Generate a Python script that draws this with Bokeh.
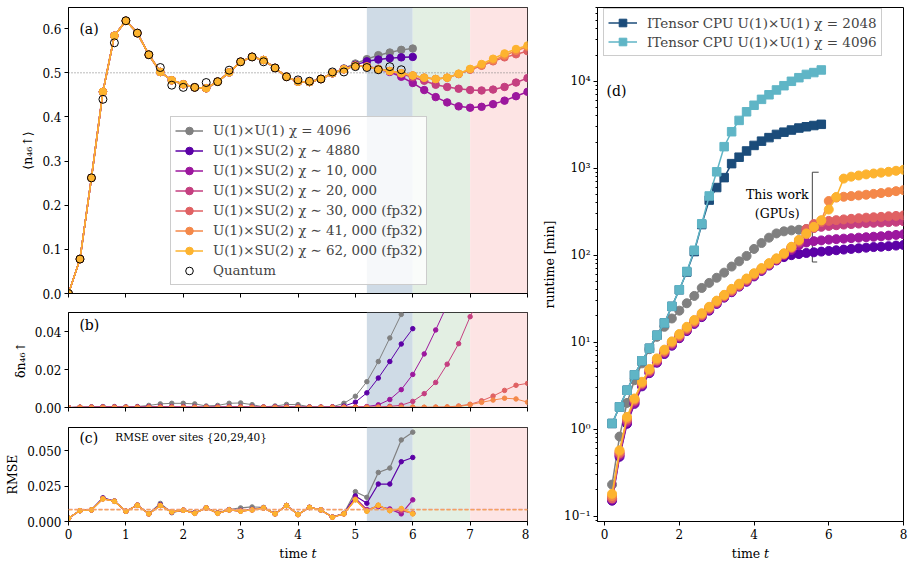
from bokeh.plotting import figure
from bokeh.models import (Range1d, BoxAnnotation, Span, Legend, LegendItem, Label,
                          FixedTicker, PrintfTickFormatter, CustomJSTickFormatter,
                          CustomLabelingPolicy)
from bokeh.layouts import row, column
from bokeh.embed import file_html
from bokeh.resources import INLINE

FONT = "DejaVu Serif"

# ---------------- data ----------------
T = [0.0, 0.2, 0.4, 0.6, 0.8, 1.0, 1.2, 1.4, 1.6, 1.8, 2.0, 2.2, 2.4, 2.6, 2.8, 3.0,
     3.2, 3.4, 3.6, 3.8, 4.0, 4.2, 4.4, 4.6, 4.8, 5.0, 5.2, 5.4, 5.6, 5.8, 6.0,
     6.2, 6.4, 6.6, 6.8, 7.0, 7.2, 7.4, 7.6, 7.8, 8.0]

LABELS = ["U(1)×U(1) χ = 4096", "U(1)×SU(2) χ ∼ 4880", "U(1)×SU(2) χ ∼ 10, 000",
          "U(1)×SU(2) χ ∼ 20, 000", "U(1)×SU(2) χ ∼ 30, 000 (fp32)",
          "U(1)×SU(2) χ ∼ 41, 000 (fp32)", "U(1)×SU(2) χ ∼ 62, 000 (fp32)"]
COLORS = ["#808080", "#5c01a6", "#9c179e", "#c53f80", "#e06163", "#f48849", "#fdb32f"]

# (a) <n_46up>
N_GRAY = [0.0, 0.078, 0.262, 0.457, 0.584, 0.618, 0.590, 0.541, 0.502, 0.483, 0.474, 0.467, 0.465,
          0.480, 0.501, 0.525, 0.536, 0.529, 0.511, 0.491, 0.480, 0.479, 0.486, 0.499, 0.510, 0.521,
          0.531, 0.540, 0.546, 0.552, 0.555]
N_4880 = [0.0, 0.078, 0.262, 0.457, 0.584, 0.618, 0.590, 0.541, 0.502, 0.483, 0.474, 0.467, 0.465,
          0.480, 0.501, 0.525, 0.536, 0.529, 0.511, 0.491, 0.480, 0.479, 0.486, 0.499, 0.509, 0.518,
          0.526, 0.530, 0.533, 0.535, 0.536]
N_10K = [0.0, 0.078, 0.262, 0.457, 0.584, 0.618, 0.590, 0.541, 0.502, 0.483, 0.474, 0.467, 0.465,
         0.480, 0.501, 0.525, 0.536, 0.529, 0.511, 0.491, 0.480, 0.479, 0.486, 0.499, 0.508, 0.516,
         0.515, 0.508, 0.502, 0.491, 0.477, 0.461, 0.445, 0.433, 0.424, 0.421, 0.423, 0.429, 0.437,
         0.447, 0.457]
N_20K = [0.0, 0.078, 0.262, 0.457, 0.584, 0.618, 0.590, 0.541, 0.502, 0.483, 0.474, 0.467, 0.465,
         0.480, 0.501, 0.525, 0.536, 0.529, 0.511, 0.491, 0.480, 0.479, 0.486, 0.499, 0.508, 0.516,
         0.515, 0.509, 0.504, 0.498, 0.490, 0.482, 0.473, 0.468, 0.464, 0.461, 0.460, 0.462, 0.468,
         0.478, 0.488]
N_30K = [0.0, 0.078, 0.262, 0.457, 0.584, 0.618, 0.590, 0.541, 0.502, 0.483, 0.474, 0.467, 0.465,
         0.480, 0.501, 0.525, 0.536, 0.529, 0.511, 0.491, 0.480, 0.479, 0.486, 0.499, 0.508, 0.516,
         0.514, 0.508, 0.504, 0.499, 0.494, 0.489, 0.486, 0.489, 0.497, 0.507, 0.516, 0.526, 0.535,
         0.542, 0.549]
N_41K = [0.0, 0.078, 0.262, 0.457, 0.584, 0.618, 0.590, 0.541, 0.502, 0.483, 0.474, 0.467, 0.465,
         0.480, 0.501, 0.525, 0.536, 0.529, 0.511, 0.491, 0.480, 0.479, 0.486, 0.499, 0.508, 0.516,
         0.514, 0.508, 0.504, 0.499, 0.494, 0.489, 0.486, 0.489, 0.498, 0.508, 0.517, 0.528, 0.539,
         0.550, 0.559]
N_62K = [0.0, 0.078, 0.262, 0.457, 0.584, 0.618, 0.590, 0.541, 0.502, 0.483, 0.474, 0.467, 0.465,
         0.480, 0.501, 0.525, 0.536, 0.529, 0.511, 0.491, 0.480, 0.479, 0.486, 0.499, 0.508, 0.516,
         0.514, 0.508, 0.504, 0.499, 0.494, 0.489, 0.486, 0.489, 0.498, 0.509, 0.520, 0.532, 0.544,
         0.554, 0.562]
N_QUANTUM = [0.0, 0.078, 0.262, 0.440, 0.568, 0.618, 0.590, 0.541, 0.512, 0.472, 0.467, 0.467, 0.478,
             0.480, 0.506, 0.525, 0.536, 0.525, 0.511, 0.491, 0.484, 0.481, 0.486, 0.502, 0.502, 0.514,
             0.512, 0.507, 0.514, 0.507]

# (b) delta n
D_GRAY = [0.0, 0.0002, 0.0004, 0.0005, 0.0005, 0.0004, 0.0005, 0.0011, 0.0019, 0.0022, 0.0022, 0.0019,
          0.0008, 0.0011, 0.0022, 0.0024, 0.0015, 0.0003, 0.0008, 0.0016, 0.0015, 0.0004, 0.0003, 0.0004,
          0.0022, 0.0059, 0.0136, 0.0242, 0.0366, 0.049, 0.062]
D_4880 = [0.0, 0.0001, 0.0002, 0.0003, 0.0003, 0.0002, 0.0003, 0.0004, 0.0005, 0.0004, 0.0003, 0.0003,
          0.0002, 0.0003, 0.0004, 0.0004, 0.0003, 0.0002, 0.0003, 0.0004, 0.0003, 0.0002, 0.0002, 0.0003,
          0.0007, 0.0028, 0.0077, 0.0155, 0.0242, 0.0334, 0.0415]
D_10K = [0.0, 0.0001, 0.0001, 0.0002, 0.0002, 0.0001, 0.0002, 0.0002, 0.0003, 0.0002, 0.0002, 0.0001,
         0.0001, 0.0002, 0.0002, 0.0002, 0.0001, 0.0001, 0.0002, 0.0002, 0.0001, 0.0001, 0.0001, 0.0002,
         0.0002, 0.0003, 0.0005, 0.0014, 0.0042, 0.0094, 0.0174, 0.0282, 0.0408, 0.054]
D_20K = [0.0, 0.0001, 0.0001, 0.0001, 0.0002, 0.0001, 0.0001, 0.0002, 0.0002, 0.0002, 0.0001, 0.0001,
         0.0001, 0.0001, 0.0002, 0.0002, 0.0001, 0.0001, 0.0001, 0.0002, 0.0001, 0.0001, 0.0001, 0.0001,
         0.0002, 0.0002, 0.0002, 0.0003, 0.0006, 0.0012, 0.0032, 0.0073, 0.0132, 0.0228, 0.0336, 0.0478,
         0.060]
D_30K = [0.0, 0.0001, 0.0001, 0.0001, 0.0001, 0.0001, 0.0001, 0.0001, 0.0002, 0.0001, 0.0001, 0.0001,
         0.0001, 0.0001, 0.0001, 0.0002, 0.0001, 0.0001, 0.0001, 0.0001, 0.0001, 0.0001, 0.0001, 0.0001,
         0.0001, 0.0001, 0.0001, 0.0001, 0.0001, 0.0001, 0.0002, 0.0001, 0.0002, 0.0003, 0.0008, 0.0017,
         0.0035, 0.006, 0.009, 0.0117, 0.0127]
D_41K = [0.0, 0.0001, 0.0001, 0.0001, 0.0001, 0.0001, 0.0001, 0.0001, 0.0001, 0.0001, 0.0001, 0.0001,
         0.0001, 0.0001, 0.0001, 0.0001, 0.0001, 0.0001, 0.0001, 0.0001, 0.0001, 0.0001, 0.0001, 0.0001,
         0.0001, 0.0001, 0.0001, 0.0001, 0.0001, 0.0001, 0.0001, 0.0001, 0.0001, 0.0002, 0.0005, 0.0015,
         0.0027, 0.0039, 0.0049, 0.0045, 0.0028]

# (c) RMSE over sites {20,29,40}
R_GRAY = [0.0023, 0.0077, 0.0082, 0.0168, 0.0145, 0.0073, 0.0115, 0.0056, 0.0128, 0.0062, 0.0080, 0.0063,
          0.0096, 0.0062, 0.0085, 0.0096, 0.0103, 0.0100, 0.0056, 0.0113, 0.0052, 0.0100, 0.0082, 0.0032,
          0.0058, 0.0211, 0.0171, 0.0347, 0.0378, 0.0577, 0.0632]
R_4880 = [0.0023, 0.0077, 0.0082, 0.0166, 0.0144, 0.0073, 0.0116, 0.0055, 0.0118, 0.0066, 0.0080, 0.0060,
          0.0096, 0.0060, 0.0083, 0.0078, 0.0085, 0.0097, 0.0055, 0.0113, 0.0050, 0.0100, 0.0082, 0.0031,
          0.0056, 0.0181, 0.0129, 0.0265, 0.0265, 0.0423, 0.0453]
R_10K = [0.0023, 0.0077, 0.0082, 0.0164, 0.0143, 0.0073, 0.0115, 0.0054, 0.0115, 0.0068, 0.0080, 0.0058,
         0.0096, 0.0058, 0.0082, 0.0074, 0.0083, 0.0096, 0.0054, 0.0113, 0.0049, 0.0100, 0.0082, 0.0030,
         0.0055, 0.0165, 0.0085, 0.0105, 0.0089, 0.0054, 0.0153]
R_20K = [0.0023, 0.0077, 0.0082, 0.0161, 0.0143, 0.0073, 0.0115, 0.0054, 0.0113, 0.0068, 0.0080, 0.0058,
         0.0096, 0.0058, 0.0082, 0.0073, 0.0082, 0.0096, 0.0054, 0.0113, 0.0049, 0.0100, 0.0082, 0.0030,
         0.0054, 0.0158, 0.0078, 0.0112, 0.0080, 0.0075, 0.0060]
R_30K = [0.0023, 0.0077, 0.0082, 0.0160, 0.0143, 0.0073, 0.0115, 0.0054, 0.0113, 0.0068, 0.0080, 0.0058,
         0.0096, 0.0058, 0.0082, 0.0073, 0.0082, 0.0096, 0.0054, 0.0113, 0.0049, 0.0100, 0.0082, 0.0030,
         0.0054, 0.0155, 0.0075, 0.0114, 0.0078, 0.0086, 0.0056]
R_41K = [0.0023, 0.0077, 0.0082, 0.0160, 0.0143, 0.0073, 0.0115, 0.0054, 0.0113, 0.0068, 0.0080, 0.0058,
         0.0096, 0.0058, 0.0082, 0.0073, 0.0082, 0.0096, 0.0054, 0.0113, 0.0049, 0.0100, 0.0082, 0.0030,
         0.0054, 0.0154, 0.0074, 0.0115, 0.0077, 0.0090, 0.0055]
R_62K = [0.0023, 0.0077, 0.0082, 0.0160, 0.0143, 0.0073, 0.0115, 0.0054, 0.0113, 0.0068, 0.0080, 0.0058,
         0.0096, 0.0058, 0.0082, 0.0073, 0.0082, 0.0096, 0.0054, 0.0113, 0.0049, 0.0100, 0.0082, 0.0030,
         0.0054, 0.0153, 0.0073, 0.0115, 0.0077, 0.0092, 0.0054]
R_REF_LEVELS = [0.0086, 0.0083]
R_REF_COLORS = ["#e8888c", "#f4a261"]

# (d) runtime [min]
RT_GRAY = [0.23, 0.82, 2.0, 3.65, 5.7, 8.3, 11.5, 15, 18.7, 23, 28, 34, 42, 48, 55, 63, 74, 85, 98,
           118, 138, 159, 178, 188, 193, 196, 200]
RT_4880 = [0.15, 0.48, 1.15, 1.95, 3.1, 4.4, 5.8, 7.3, 9.1, 11.1, 13.4, 16.2, 19.4, 23, 27.5, 32.5,
           37.5, 43.5, 49.5, 57, 66, 76, 87, 95, 100, 103, 106, 108, 110, 112, 114, 116, 118, 120,
           122, 124, 125, 127, 129, 131]
RT_10K = [0.155, 0.5, 1.2, 2.0, 3.2, 4.5, 5.9, 7.5, 9.3, 11.3, 13.7, 16.5, 19.8, 23.5, 28, 33, 38,
          44, 50, 58, 67, 77, 88, 100, 115, 130, 140, 145, 148, 151, 153, 155, 157, 159, 161, 163,
          165, 168, 171, 174]
RT_20K = [0.16, 0.52, 1.25, 2.1, 3.3, 4.6, 6.1, 7.7, 9.6, 11.6, 14, 16.9, 20.2, 24, 28.5, 33.5, 38.5,
          44.5, 51, 59, 68, 78, 89, 102, 120, 140, 190, 205, 212, 217, 221, 225, 228, 231, 234, 236,
          238, 240, 243, 246]
RT_30K = [0.16, 0.53, 1.3, 2.15, 3.35, 4.7, 6.2, 7.8, 9.8, 11.8, 14.3, 17.2, 20.5, 24.5, 29, 34, 39,
          45, 52, 60, 69, 79, 90, 103, 122, 145, 200, 228, 240, 248, 253, 258, 262, 266, 270, 273,
          276, 280, 283, 287]
RT_41K = [0.17, 0.55, 1.33, 2.2, 3.4, 4.8, 6.3, 8.0, 10.0, 12.1, 14.6, 17.5, 21, 25, 29.5, 34.5, 40,
          46, 53, 61, 70, 80, 91, 104, 123, 148, 175, 208, 250, 420, 460, 470, 478, 487, 496, 507,
          518, 530, 545, 560]
RT_62K = [0.18, 0.57, 1.38, 2.25, 3.5, 4.9, 6.5, 8.2, 10.2, 12.4, 15, 18, 21.5, 25.5, 30, 35, 41, 47,
          54, 62, 71, 81, 92, 105, 125, 150, 178, 212, 252, 335, 467, 760, 800, 825, 850, 870, 890,
          910, 935, 960]
RT_IT2048 = [1.16, 1.8, 2.8, 4.2, 6.1, 8.5, 12, 16.6, 25.8, 40, 64, 110, 225, 430, 600, 780, 1130,
             1340, 1580, 1830, 2050, 2250, 2450, 2600, 2750, 2900, 3000, 3100, 3200]
RT_IT4096 = [1.16, 1.8, 2.8, 4.2, 6.1, 8.5, 12, 16.6, 25.8, 40, 65, 114, 230, 480, 910, 1770, 2630,
             3550, 4460, 5300, 6200, 7000, 7950, 8900, 10000, 11000, 12000, 12600, 13500]
IT_LABELS = ["ITensor CPU U(1)×U(1) χ = 2048", "ITensor CPU U(1)×U(1) χ = 4096"]
IT_COLORS = ["#1b4c7a", "#5fb5c6"]

SHADES = [(5.2, 6.0, "#cfdbe6"), (6.0, 7.0, "#e3efe3"), (7.0, 8.0, "#fde4e4")]


# ---------------- helpers ----------------
def style(p, log=False):
    p.xgrid.visible = False
    p.ygrid.visible = False
    p.outline_line_color = "black"
    p.outline_line_width = 1
    p.outline_line_alpha = 1
    p.background_fill_color = "white"
    p.border_fill_color = "white"
    for ax in p.axis:
        ax.major_label_text_font = FONT
        ax.major_label_text_font_size = "12px"
        ax.major_label_text_color = "black"
        ax.axis_label_text_font = FONT
        ax.axis_label_text_font_size = "12.5px"
        ax.axis_label_text_font_style = "normal"
        ax.axis_label_text_color = "black"
        ax.axis_line_color = "black"
        ax.major_tick_in = 0
        ax.major_tick_out = 4
        ax.minor_tick_in = 0
        ax.minor_tick_out = 2
        ax.major_label_standoff = 3
        ax.axis_label_standoff = 4
    p.xaxis.minor_tick_line_color = None
    if not log:
        p.yaxis.minor_tick_line_color = None


def hide_x_labels(p):
    # ticks kept (shared x axis), labels suppressed
    p.xaxis.major_label_policy = CustomLabelingPolicy(
        code="for (const i of indices) { indices.unset(i) }\nreturn indices")
    p.xaxis.major_label_text_font_size = "1px"
    p.xaxis.major_label_standoff = 0


def shade(p):
    for a, b, c in SHADES:
        p.add_layout(BoxAnnotation(left=a, right=b, fill_color=c, fill_alpha=1.0,
                                   line_color=None, level="underlay"))


def curve(p, x, y, color, lw, size, marker="circle"):
    r1 = p.line(x, y, line_color=color, line_width=lw)
    r2 = p.scatter(x, y, marker=marker, size=size, fill_color=color, line_color=color)
    return [r1, r2]


def panel_label(p, x, y, text, size="14px"):
    p.add_layout(Label(x=x, y=y, text=text, text_font=FONT, text_font_size=size,
                       text_baseline="middle", text_align="left", text_color="black"))


common = dict(output_backend="svg", toolbar_location=None)

# ---------------- (a) ----------------
pa = figure(width=529, height=312, x_range=Range1d(0, 8), y_range=Range1d(0, 0.648),
            min_border_left=68, min_border_right=2, min_border_top=7, min_border_bottom=19, **common)
style(pa)
shade(pa)
pa.add_layout(Span(location=0.5, dimension="width", line_color="#777777", line_dash="1 2",
                   line_width=1, level="underlay"))
series_a = [N_GRAY, N_4880, N_10K, N_20K, N_30K, N_41K, N_62K]
items = []
for lab, col, ys in zip(LABELS, COLORS, series_a):
    rs = curve(pa, T[:len(ys)], ys, col, 1.5, 7.5)
    items.append(LegendItem(label=lab, renderers=rs))
rq = pa.scatter(T[:len(N_QUANTUM)], N_QUANTUM, marker="circle", size=8, fill_color=None,
                line_color="black", line_width=1)
items.append(LegendItem(label="Quantum", renderers=[rq]))
pa.xaxis.ticker = FixedTicker(ticks=[0, 1, 2, 3, 4, 5, 6, 7, 8])
hide_x_labels(pa)
pa.yaxis.ticker = FixedTicker(ticks=[0.0, 0.1, 0.2, 0.3, 0.4, 0.5, 0.6])
pa.yaxis.formatter = PrintfTickFormatter(format="%.1f")
pa.yaxis.axis_label = "⟨n₄₆↑⟩"
leg = Legend(items=items, location=(102, 8), label_text_font=FONT, label_text_font_size="13.4px",
             glyph_width=28, glyph_height=19, label_height=19, spacing=1, padding=4,
             label_standoff=10, border_line_color="#cccccc", border_line_alpha=1,
             background_fill_color="white", background_fill_alpha=0.8, margin=0)
pa.add_layout(leg)
panel_label(pa, 0.19, 0.60, "(a)")

# ---------------- (b) ----------------
pb = figure(width=529, height=115, x_range=pa.x_range, y_range=Range1d(0, 0.05),
            min_border_left=68, min_border_right=2, min_border_top=0, min_border_bottom=20, **common)
style(pb)
shade(pb)
series_b = [D_GRAY, D_4880, D_10K, D_20K, D_30K, D_41K]
for col, ys in zip(COLORS, series_b):
    curve(pb, T[:len(ys)], ys, col, 1, 4.5)
pb.xaxis.ticker = FixedTicker(ticks=[0, 1, 2, 3, 4, 5, 6, 7, 8])
hide_x_labels(pb)
pb.yaxis.ticker = FixedTicker(ticks=[0.0, 0.02, 0.04])
pb.yaxis.formatter = PrintfTickFormatter(format="%.2f")
pb.yaxis.axis_label = "δn₄₆↑"
panel_label(pb, 0.19, 0.0432, "(b)")

# ---------------- (c) ----------------
pc = figure(width=529, height=136, x_range=pa.x_range, y_range=Range1d(0, 0.0665),
            min_border_left=68, min_border_right=2, min_border_top=0, min_border_bottom=42, **common)
style(pc)
shade(pc)
for lvl, col in zip(R_REF_LEVELS, R_REF_COLORS):
    pc.add_layout(Span(location=lvl, dimension="width", line_color=col, line_dash="4 2",
                       line_width=1.3))
series_c = [R_GRAY, R_4880, R_10K, R_20K, R_30K, R_41K, R_62K]
for col, ys in zip(COLORS, series_c):
    curve(pc, T[:len(ys)], ys, col, 1.2, 4.5)
pc.xaxis.ticker = FixedTicker(ticks=[0, 1, 2, 3, 4, 5, 6, 7, 8])
pc.xaxis.formatter = PrintfTickFormatter(format="%d")
pc.xaxis.axis_label = "time 𝑡"
pc.yaxis.ticker = FixedTicker(ticks=[0.0, 0.025, 0.05])
pc.yaxis.formatter = PrintfTickFormatter(format="%.3f")
pc.yaxis.axis_label = "RMSE"
panel_label(pc, 0.19, 0.0594, "(c)")
panel_label(pc, 0.815, 0.0598, "RMSE over sites {20,29,40}", size="10.5px")

# ---------------- (d) ----------------
pd = figure(width=384, height=563, x_range=Range1d(-0.19, 8.0), y_range=Range1d(0.0865, 70600),
            y_axis_type="log", min_border_left=68, min_border_right=10, min_border_top=7,
            min_border_bottom=41, **common)
style(pd, log=True)
# bracket for "This work (GPUs)"
pd.line([5.73, 5.56, 5.56, 5.69], [900, 900, 83.5, 83.5], line_color="#444444", line_width=1)
TD = T[1:]
for col, ys in zip(COLORS, [RT_GRAY, RT_4880, RT_10K, RT_20K, RT_30K, RT_41K, RT_62K]):
    curve(pd, TD[:len(ys)], ys, col, 1.5, 9)
d_items = []
for lab, col, ys in zip(IT_LABELS, IT_COLORS, [RT_IT2048, RT_IT4096]):
    rs = curve(pd, TD[:len(ys)], ys, col, 1.5, 8.5, marker="square")
    d_items.append(LegendItem(label=lab, renderers=rs))
pd.xaxis.ticker = FixedTicker(ticks=[0, 2, 4, 6, 8])
pd.xaxis.formatter = PrintfTickFormatter(format="%d")
pd.xaxis.axis_label = "time 𝑡"
majors = [0.1, 1, 10, 100, 1000, 10000]
minors = [m * d for d in [0.01, 0.1, 1, 10, 100, 1000, 10000] for m in range(2, 10)
          if 0.0865 < m * d < 70600]
pd.yaxis.ticker = FixedTicker(ticks=majors, minor_ticks=minors)
pd.yaxis.formatter = CustomJSTickFormatter(code="""
const sup = {"0":"⁰","1":"¹","2":"²","3":"³","4":"⁴","5":"⁵","6":"⁶","7":"⁷","8":"⁸","9":"⁹","-":"⁻"};
const e = Math.round(Math.log10(tick));
return "10" + String(e).split("").map(c => sup[c]).join("");
""")
pd.yaxis.axis_label = "runtime [min]"
dleg = Legend(items=d_items, location=(6, 465), label_text_font=FONT, label_text_font_size="13.5px",
              glyph_width=29, glyph_height=19, label_height=19, spacing=0, padding=4,
              label_standoff=10, border_line_color="#cccccc", border_line_alpha=1,
              background_fill_color="white", background_fill_alpha=0.8, margin=0)
pd.add_layout(dleg)
panel_label(pd, 0.05, 7670, "(d)")
for txt, yv in [("This work", 502), ("(GPUs)", 304)]:
    pd.add_layout(Label(x=4.62, y=yv, text=txt, text_font=FONT, text_font_size="12.5px",
                        text_baseline="middle", text_align="center", text_color="black"))

layout = row(column(pa, pb, pc), pd)
open("out.html", "w").write(file_html(layout, INLINE))
